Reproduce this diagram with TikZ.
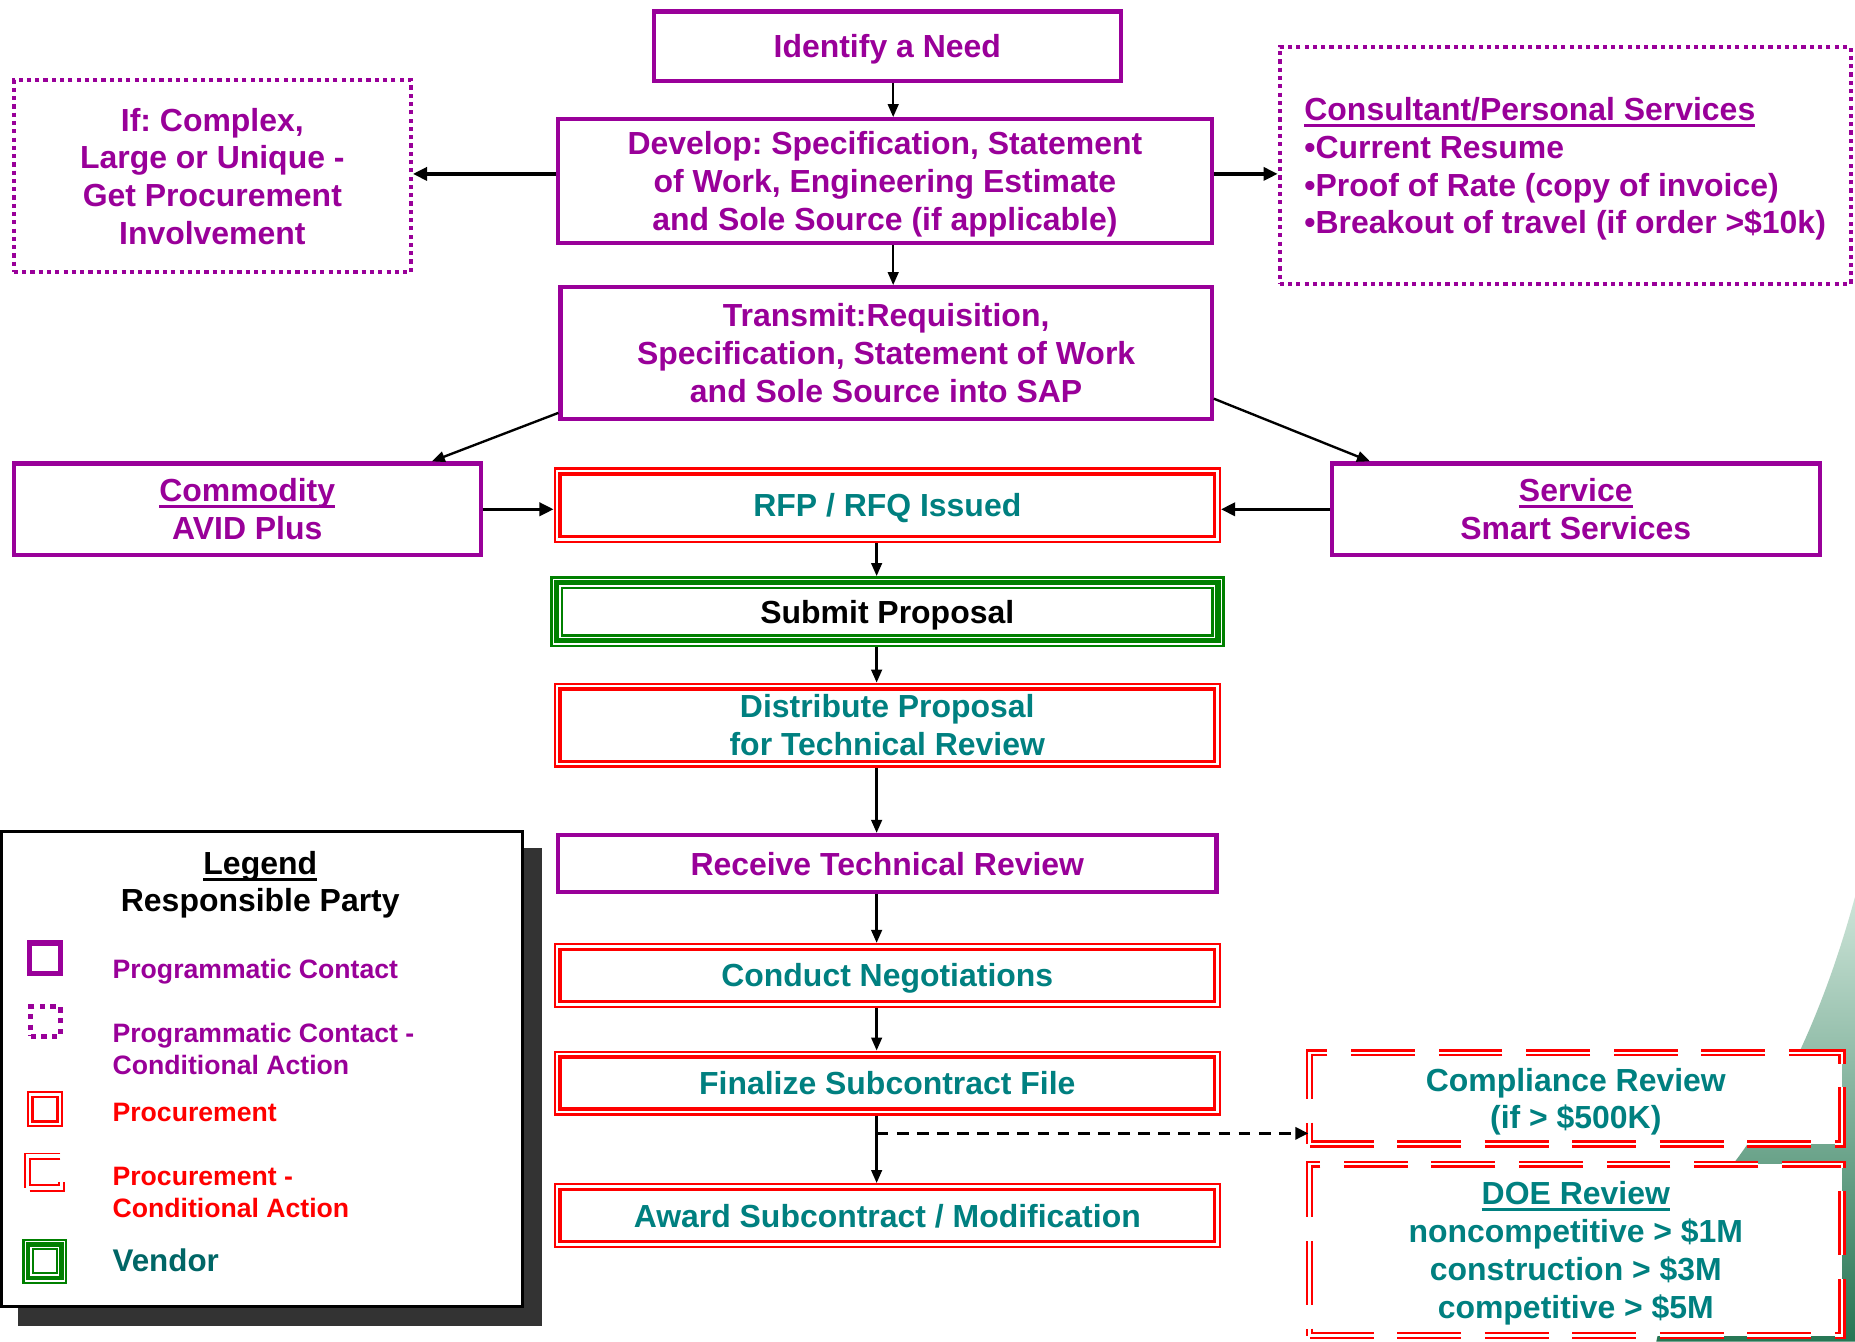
\documentclass[tikz,border=0pt]{standalone}
\usepackage{fontspec}
\setmainfont{Liberation Sans}
\usetikzlibrary{arrows.meta,calc}
\definecolor{pc}{RGB}{153,0,153}
\definecolor{tl}{RGB}{0,128,128}
\definecolor{vt}{RGB}{0,102,102}
\definecolor{vg}{RGB}{0,128,0}
\definecolor{rd}{RGB}{255,0,0}
\definecolor{shd}{RGB}{51,51,51}
\newcommand\myul[1]{\leavevmode\setbox0=\hbox{#1}\rlap{\vrule width \wd0 height -3pt depth 5.5pt}\box0}
\frenchspacing
\begin{document}
\begin{tikzpicture}[x=1pt,y=-1pt,
  every node/.style={font=\bfseries\fontsize{27}{32}\selectfont, align=center, inner sep=0pt, text depth=0pt},
  progbox/.style={draw=pc, line width=3.5pt, text=pc, fill=white},
  progcond/.style={draw=pc, line width=3.5pt, dash pattern=on 3.5pt off 3.5pt, text=pc, fill=white},
  procbox/.style={draw=rd, line width=2pt, fill=white, text=tl,
    path picture={\draw[rd, line width=3pt] ([shift={(4.5pt,-4.5pt)}]path picture bounding box.north west) rectangle ([shift={(-4.5pt,4.5pt)}]path picture bounding box.south east);}},
  proccond/.style={draw=rd, double=white, line width=2pt, double distance=2pt, dash pattern=on 54pt off 20pt, fill=white, text=tl},
  vendbox/.style={preaction={fill=white, draw=vg, line width=11.1pt}, preaction={draw=white, line width=6.7pt}, draw=vg, line width=4.5pt, outer sep=5.55pt},
  arr/.style={-{Triangle[length=11pt,width=9pt]}, line width=2pt, black},
  thickarr/.style={-{Triangle[length=12pt,width=11pt]}, line width=3pt, black},
  lgtext/.style={anchor=west, align=left, font=\bfseries\fontsize{22.5}{27}\selectfont}
]
\useasboundingbox (0,0) rectangle (1568,1134);
\fill[white] (0,0) rectangle (1568,1134);

% green background decoration
\shade[top color={rgb,255:red,205;green,228;blue,216}, bottom color={rgb,255:red,38;green,118;blue,84}]
  (1568,758) .. controls (1540,862) and (1500,940) .. (1461,989)
  .. controls (1430,1030) and (1410,1090) .. (1400,1134) -- (1568,1134) -- cycle;

% main nodes
\node[progbox, minimum width=394.5pt, minimum height=58.5pt] (need) at (750,39) {Identify a Need};
\node[progcond, minimum width=335.5pt, minimum height=162.5pt] (complex) at (179.5,149) {If: Complex,\\Large or Unique -\\Get Procurement\\Involvement};
\node[progbox, minimum width=552.5pt, minimum height=104.5pt] (develop) at (748,153) {Develop: Specification, Statement\\of Work, Engineering Estimate\\and Sole Source (if applicable)};
\node[progcond, minimum width=482.5pt, minimum height=200.5pt, align=left] (consult) at (1323,140) {\myul{Consultant/Personal Services}\\\textbullet Current Resume\\\textbullet Proof of Rate (copy of invoice)\\\textbullet Breakout of travel (if order >\$10k)};
\node[progbox, minimum width=550.5pt, minimum height=111.5pt] (transmit) at (749,298.5) {Transmit:Requisition,\\Specification, Statement of Work\\and Sole Source into SAP};
\node[progbox, minimum width=394.5pt, minimum height=77.5pt] (commodity) at (209,430.5) {\myul{Commodity}\\AVID Plus};
\node[progbox, minimum width=412.5pt, minimum height=77.5pt] (service) at (1332,430.5) {\myul{Service}\\Smart Services};
\node[procbox, minimum width=562pt, minimum height=62pt] (rfp) at (750,427) {RFP / RFQ Issued};
\node[vendbox, minimum width=559pt, minimum height=49pt, text=black] (submit) at (750,517) {Submit Proposal};
\node[procbox, minimum width=562pt, minimum height=70pt] (distribute) at (750,613) {Distribute Proposal\\for Technical Review};
\node[progbox, minimum width=556.5pt, minimum height=48.5pt] (receive) at (750,730) {Receive Technical Review};
\node[procbox, minimum width=562pt, minimum height=53pt] (conduct) at (750,824.5) {Conduct Negotiations};
\node[procbox, minimum width=562pt, minimum height=53pt] (finalize) at (750,915.5) {Finalize Subcontract File};
\node[procbox, minimum width=562pt, minimum height=53pt] (award) at (750,1027.5) {Award Subcontract / Modification};
\node[proccond, minimum width=450pt, minimum height=77pt] (compliance) at (1332,928.5) {Compliance Review\\(if > \$500K)};
\node[proccond, minimum width=450pt, minimum height=145pt, font=\bfseries\fontsize{27}{32.3}\selectfont] (doe) at (1332,1056.5) {\myul{DOE Review}\\noncompetitive > \$1M\\construction > \$3M\\competitive > \$5M};

% connectors
\draw[arr] ([xshift=5pt]need.south) -- ([xshift=5pt]need.south |- develop.north);
\draw[arr] ([xshift=7pt]develop.south) -- ([xshift=7pt]develop.south |- transmit.north);
\draw[thickarr] ([yshift=6pt]develop.west) -- ([yshift=6pt]develop.west -| complex.east);
\draw[thickarr] ([yshift=6pt]develop.east) -- ([yshift=6pt]develop.east -| consult.west);
\draw[arr] ([yshift=7pt]transmit.south west) -- ([xshift=156pt]commodity.north);
\draw[arr] ([yshift=19pt]transmit.south east) -- ([xshift=-174pt]service.north);
\draw[thickarr] (commodity.east) -- (commodity.east -| rfp.west);
\draw[thickarr] (service.west) -- (service.west -| rfp.east);
\draw[arr] ([xshift=-9pt]rfp.south) -- ([xshift=-9pt]rfp.south |- submit.north);
\draw[arr] ([xshift=-9pt]submit.south) -- ([xshift=-9pt]submit.south |- distribute.north);
\draw[arr] ([xshift=-9pt]distribute.south) -- ([xshift=-9pt]distribute.south |- receive.north);
\draw[arr] ([xshift=-9pt]receive.south) -- ([xshift=-9pt]receive.south |- conduct.north);
\draw[arr] ([xshift=-9pt]conduct.south) -- ([xshift=-9pt]conduct.south |- finalize.north);
\draw[arr] ([xshift=-9pt]finalize.south) -- ([xshift=-9pt]finalize.south |- award.north);
\coordinate (br) at ([shift={(-9pt,-15pt)}]finalize.south);
\draw[line width=3pt, dash pattern=on 10pt off 7pt, -{Triangle[length=11pt,width=10pt]}] (br) -- (br -| compliance.west);

% legend
\fill[shd] (15,717) rectangle (458,1121);
\node[draw=black, line width=2.5pt, fill=white, minimum width=440.5pt, minimum height=401.5pt] (legend) at (221.5,904) {};
\node[text=black] (lgtitle) at (220,745) {\myul{Legend}\\Responsible Party};
\node[draw=pc, line width=4.5pt, minimum size=26pt] (ic1) at (38,810) {};
\node[draw=pc, line width=4.5pt, dash pattern=on 4.5pt off 4.5pt, minimum size=25pt] (ic2) at (38.5,863.5) {};
\node[draw=rd, line width=1.8pt, minimum size=29pt,
  path picture={\draw[rd, line width=2pt] ([shift={(4pt,-4pt)}]path picture bounding box.north west) rectangle ([shift={(-4pt,4pt)}]path picture bounding box.south east);}] (ic3) at (38,937.5) {};
\draw[rd, line width=1.6pt] (51,975) -- (21.5,975) -- (21.5,1004);
\draw[rd, line width=1.6pt] (51,980) -- (25.5,980) -- (25.5,1002) -- (50,1002) -- (50,999);
\draw[rd, line width=1.6pt] (25,1007) -- (54,1007) -- (54,999);
\node[preaction={fill=white, draw=vg, line width=10pt}, preaction={draw=white, line width=6.5pt}, draw=vg, line width=3.5pt, minimum size=28pt] (ic5) at (38,1066) {};
\node[lgtext, text=pc] (lb1) at (95,819) {Programmatic Contact};
\node[lgtext, text=pc] (lb2) at (95,886.5) {Programmatic Contact -\\Conditional Action};
\node[lgtext, text=rd] (lb3) at (95,940) {Procurement};
\node[lgtext, text=rd] (lb4) at (95,1007.5) {Procurement -\\Conditional Action};
\node[anchor=west, text=vt, font=\bfseries\fontsize{26.5}{32}\selectfont] (lb5) at (95,1065) {Vendor};
\end{tikzpicture}
\end{document}
